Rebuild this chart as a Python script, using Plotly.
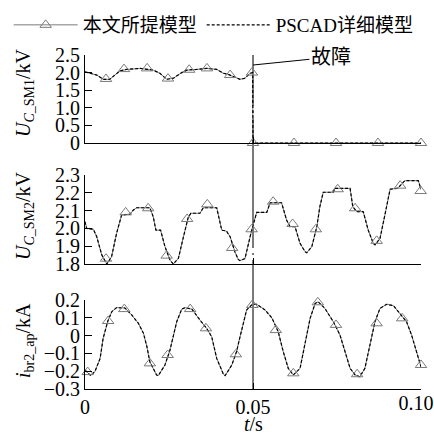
import plotly.graph_objects as go

# ---------------- data ----------------
# Panel 1: U_C_SM1 (kV)
t1 = [0.0, 0.0020, 0.0035, 0.0054, 0.0074, 0.0089, 0.0104, 0.0124, 0.0164, 0.0203,
      0.0223, 0.0243, 0.0263, 0.0288, 0.0303, 0.0332, 0.0362, 0.0392, 0.0412, 0.0426,
      0.0446, 0.0461, 0.0476, 0.0491, 0.0499, 0.0500, 0.0625, 0.0750, 0.0875, 0.1000]
u1 = [2.02, 1.98, 1.93, 1.81, 1.81, 1.93, 2.05, 2.09, 2.12, 2.07,
      1.98, 1.81, 1.84, 2.00, 2.07, 2.09, 2.12, 2.09, 1.98, 1.95,
      1.87, 1.81, 1.84, 1.98, 2.00, 0.0, 0.0, 0.0, 0.0, 0.0]
t1_m = [0.00625, 0.0116, 0.0185, 0.0247, 0.0310, 0.0363, 0.0432, 0.0497, 0.0500,
        0.0622, 0.0747, 0.0872, 0.1000]
u1_m = [1.82, 2.10, 2.12, 1.83, 2.08, 2.12, 1.93, 2.00, 0.0, 0.0, 0.0, 0.0, 0.0]

# Panel 2: U_C_SM2 (kV)
t2 = [0.0, 0.0005, 0.0025, 0.0035, 0.0050, 0.0060, 0.0065, 0.0079, 0.0094, 0.0109,
      0.0134, 0.0144, 0.0154, 0.0193, 0.0203, 0.0211, 0.0225, 0.0238, 0.0253, 0.0263,
      0.0278, 0.0293, 0.0307, 0.0315, 0.0342, 0.0352, 0.0392, 0.0407, 0.0421, 0.0432,
      0.0446, 0.0456, 0.0461, 0.0476, 0.0486, 0.0496, 0.0511, 0.0541, 0.0551, 0.0585,
      0.0600, 0.0610, 0.0625, 0.0640, 0.0655, 0.0660, 0.0675, 0.0690, 0.0699, 0.0709,
      0.0739, 0.0744, 0.0789, 0.0797, 0.0809, 0.0828, 0.0843, 0.0858, 0.0863, 0.0878,
      0.0893, 0.0908, 0.0928, 0.0933, 0.0952, 0.0992, 0.1000]
u2 = [2.038, 2.000, 1.995, 1.953, 1.850, 1.813, 1.800, 1.840, 1.972, 2.075,
      2.080, 2.103, 2.116, 2.116, 2.066, 1.990, 1.990, 1.897, 1.822, 1.800,
      1.832, 1.953, 2.060, 2.085, 2.085, 2.116, 2.116, 1.990, 1.985, 1.953,
      1.869, 1.826, 1.819, 1.830, 1.916, 1.990, 2.090, 2.090, 2.144, 2.144,
      2.047, 2.010, 2.010, 1.916, 1.869, 1.863, 1.897, 2.010, 2.122, 2.203,
      2.203, 2.225, 2.225, 2.122, 2.094, 2.094, 1.990, 1.916, 1.907, 1.944,
      2.080, 2.220, 2.225, 2.230, 2.268, 2.268, 2.220]
t2_m = [0.00625, 0.0121, 0.0188, 0.0243, 0.0304, 0.0364, 0.0438, 0.0496, 0.0560,
        0.0618, 0.0687, 0.0752, 0.0804, 0.0868, 0.0938, 0.0999]
u2_m = [1.83, 2.09, 2.113, 1.847, 2.053, 2.135, 1.89, 1.995, 2.15,
        2.025, 1.995, 2.22, 2.113, 1.93, 2.24, 2.21]

# Panel 3: i_br2_ap (kA)
t3 = [0.0, 0.0017, 0.0030, 0.0045, 0.0054, 0.0068, 0.0080, 0.0094, 0.0119, 0.0139,
      0.0159, 0.0174, 0.0184, 0.0193, 0.0213, 0.0218, 0.0238, 0.0253, 0.0273, 0.0288,
      0.0298, 0.0318, 0.0342, 0.0362, 0.0377, 0.0392, 0.0412, 0.0417, 0.0437, 0.0451,
      0.0461, 0.0481, 0.0498, 0.0511, 0.0536, 0.0556, 0.0575, 0.0590, 0.0605, 0.0620,
      0.0640, 0.0655, 0.0670, 0.0685, 0.0694, 0.0714, 0.0739, 0.0759, 0.0774, 0.0789,
      0.0804, 0.0818, 0.0833, 0.0848, 0.0863, 0.0878, 0.0898, 0.0918, 0.0938, 0.0957,
      0.0972, 0.0987, 0.1000]
i3 = [-0.193, -0.225, -0.200, -0.128, -0.015, 0.082, 0.135, 0.157, 0.155, 0.116,
      0.069, 0.013, -0.060, -0.147, -0.221, -0.225, -0.165, -0.081, 0.078, 0.149,
      0.157, 0.149, 0.088, 0.041, -0.006, -0.128, -0.217, -0.225, -0.165, -0.090,
      -0.010, 0.144, 0.176, 0.176, 0.144, 0.100, 0.022, -0.090, -0.184, -0.221,
      -0.184, -0.053, 0.097, 0.181, 0.190, 0.153, 0.078, 0.003, -0.090, -0.184,
      -0.221, -0.231, -0.184, -0.053, 0.078, 0.153, 0.176, 0.168, 0.125, 0.078,
      0.003, -0.090, -0.175]
t3_m = [0.0008, 0.0069, 0.0117, 0.0193, 0.0246, 0.0313, 0.0360, 0.0449, 0.0498,
        0.0568, 0.0620, 0.0693, 0.0747, 0.0810, 0.0868, 0.0944, 0.1000]
i3_m = [-0.205, 0.082, 0.149, -0.156, -0.109, 0.149, 0.041, -0.105, 0.172,
        0.031, -0.212, 0.187, 0.060, -0.217, 0.069, 0.097, -0.165]

# axis ticks
x_tickvals = [0, 0.05, 0.10]
x_ticktext = ["0", "0.05", ""]
x_last_val = [0.10]
x_last_text = ["0.10"]
y1_ticks = [0, 0.5, 1.0, 1.5, 2.0, 2.5]
y1_text = ["0", "0.5", "1.0", "1.5", "2.0", "2.5"]
y2_ticks = [1.8, 1.9, 2.0, 2.1, 2.2, 2.3]
y2_text = ["1.8", "1.9", "2.0", "2.1", "2.2", "2.3"]
y3_ticks = [-0.3, -0.2, -0.1, 0, 0.1, 0.2]
y3_text = ["\u22120.3", "\u22120.2", "\u22120.1", "0", "0.1", "0.2"]

fault_t = 0.05
legend_names = ["本文所提模型", "PSCAD详细模型"]

# ---------------- styling ----------------
FONT = "Liberation Serif, Times New Roman, Noto Sans CJK SC, serif"
FS = 20
FS_LEG = 19
GRAY = "#7a7a7a"

fig = go.Figure()

panels = [(t1, u1, t1_m, u1_m, "x", "y"),
          (t2, u2, t2_m, u2_m, "x2", "y2"),
          (t3, i3, t3_m, i3_m, "x3", "y3")]
for tt, vv, tm, vm, xa, ya in panels:
    fig.add_trace(go.Scatter(x=tt, y=vv, mode="lines", xaxis=xa, yaxis=ya,
                             line=dict(color=GRAY, width=1), showlegend=False,
                             hoverinfo="skip"))
    fig.add_trace(go.Scatter(x=tt, y=vv, mode="lines", xaxis=xa, yaxis=ya,
                             line=dict(color="black", width=1.2, dash="3px,2px"),
                             showlegend=False))
    fig.add_trace(go.Scatter(x=tm, y=vm, mode="markers", xaxis=xa, yaxis=ya,
                             marker=dict(symbol="triangle-up-open", size=10,
                                         color=GRAY, line=dict(width=1, color=GRAY)),
                             cliponaxis=False, showlegend=False))

# invisible trace to activate the overlay axis for the last tick label
fig.add_trace(go.Scatter(x=[None], y=[None], xaxis="x4", yaxis="y3", mode="lines",
                         showlegend=False, hoverinfo="skip"))

# legend entries
fig.add_trace(go.Scatter(x=[None], y=[None], mode="lines+markers", name=legend_names[0],
                         line=dict(color=GRAY, width=1),
                         marker=dict(symbol="triangle-up-open", size=10, color=GRAY)))
fig.add_trace(go.Scatter(x=[None], y=[None], mode="lines", name=legend_names[1],
                         line=dict(color="black", width=1.2, dash="3px,2px")))

W = H = 434
def py(p):
    return 1 - p / H

xdom = [85 / W, 421 / W]
ydoms = [[py(143), py(55)], [py(264), py(175)], [py(389), py(300)]]

common_x = dict(domain=xdom, range=[0, 0.1], showline=True, linecolor="black",
                linewidth=1, ticks="inside", ticklen=6, tickcolor="black",
                tickvals=x_tickvals, ticktext=x_ticktext, showgrid=False,
                zeroline=False, automargin=False,
                tickfont=dict(family=FONT, size=FS, color="black"))
common_y = dict(showline=True, linecolor="black", linewidth=1, ticks="inside",
                ticklen=7, tickcolor="black", showgrid=False, zeroline=False,
                automargin=False,
                tickfont=dict(family=FONT, size=FS, color="black"))

fig.update_layout(
    template="none",
    width=W, height=H, margin=dict(l=0, r=0, t=0, b=0, pad=0),
    plot_bgcolor="white", paper_bgcolor="white",
    font=dict(family=FONT, size=FS, color="black"),
    xaxis=dict(common_x, anchor="y", showticklabels=False),
    xaxis2=dict(common_x, anchor="y2", showticklabels=False),
    xaxis3=dict(common_x, anchor="y3", showticklabels=True),
    xaxis4=dict(domain=xdom, range=[0, 0.1], overlaying="x3", anchor="y3",
                showline=False, ticks="", showgrid=False, zeroline=False,
                automargin=False,
                tickvals=x_last_val, ticktext=x_last_text, ticklabelshift=-5,
                tickfont=dict(family=FONT, size=FS, color="black")),
    yaxis=dict(common_y, domain=ydoms[0], anchor="x", range=[0, 2.5],
               tickvals=y1_ticks, ticktext=y1_text),
    yaxis2=dict(common_y, domain=ydoms[1], anchor="x2", range=[1.8, 2.3],
                tickvals=y2_ticks, ticktext=y2_text),
    yaxis3=dict(common_y, domain=ydoms[2], anchor="x3", range=[-0.3, 0.2],
                tickvals=y3_ticks, ticktext=y3_text),
    legend=dict(orientation="h", x=0.02, y=py(6), xanchor="left", yanchor="top",
                font=dict(family=FONT, size=FS_LEG, color="black"), itemwidth=64,
                bgcolor="rgba(0,0,0,0)", tracegroupgap=0),
    showlegend=True,
)

# fault line
fig.add_shape(type="line", xref="x3", yref="paper", x0=fault_t, x1=fault_t,
              y0=py(390), y1=py(55), line=dict(color=GRAY, width=2, dash="130px,5px,2px,5px"),
              layer="below")

# fault annotation
fig.add_annotation(x=fault_t, y=2.215, xref="x", yref="y", ax=0.0732, ay=2.44,
                   axref="x", ayref="y", text="故障", showarrow=True, arrowhead=0,
                   arrowwidth=1, arrowcolor="black", standoff=0,
                   font=dict(family=FONT, size=20, color="black"))

# y titles
ytitles = ["<i>U</i><sub><i>C</i>_SM1</sub>/kV", "<i>U</i><sub><i>C</i>_SM2</sub>/kV",
           "<i>i</i><sub>br2_ap</sub>/kA"]
ycent = [py(93), py(216), py(341)]
for txt, yc in zip(ytitles, ycent):
    fig.add_annotation(x=24 / W, y=yc, xref="paper", yref="paper", text=txt,
                       textangle=-90, showarrow=False, xanchor="center", yanchor="middle",
                       font=dict(family=FONT, size=FS, color="black"))

# x title
fig.add_annotation(x=fault_t, y=py(424), xref="x3", yref="paper", text="<i>t</i>/s",
                   showarrow=False, xanchor="center", yanchor="middle",
                   font=dict(family=FONT, size=FS, color="black"))

fig.write_html("out.html")
